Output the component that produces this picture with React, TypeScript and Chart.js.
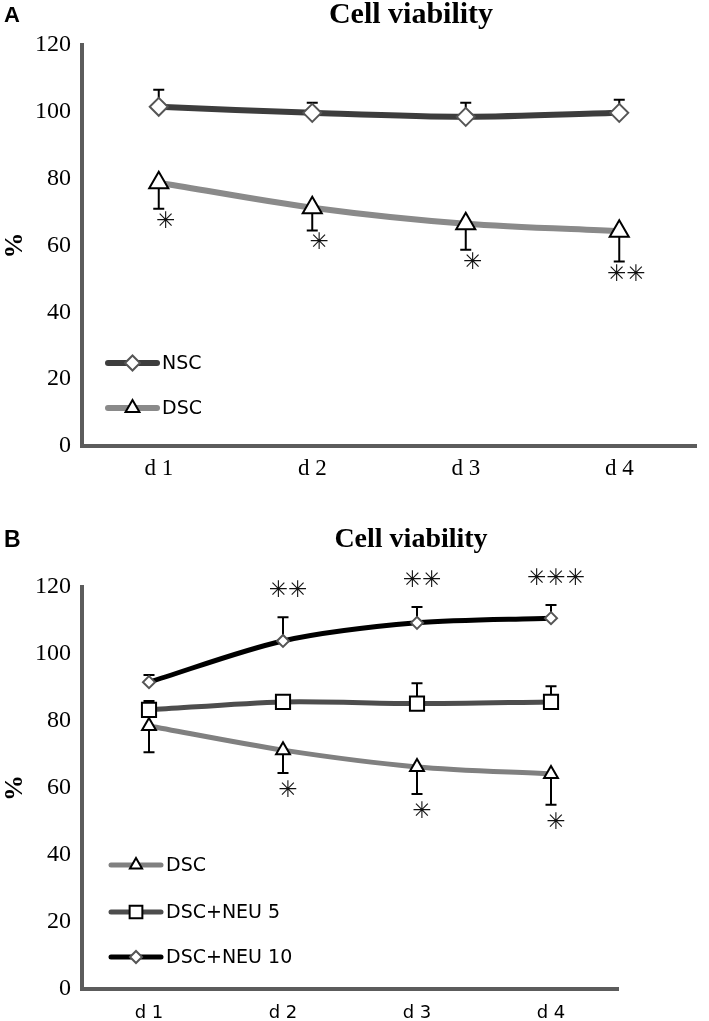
import React, { useEffect, useRef } from "react";
import { Chart, registerables } from "chart.js";
Chart.register(...registerables);

// ---------- data ----------
const days = ["d 1", "d 2", "d 3", "d 4"];
const yMin = 0;
const yMax = 120;
const yStep = 20;

// Panel A
const nscMean = [101.5, 99.7, 98.5, 99.7];
const nscSD = [5.1, 3.0, 4.2, 3.9];
const dscMeanA = [78.8, 71.3, 66.5, 64.3];
const dscSDA = [7.8, 6.8, 7.8, 9.1];
const dscStarsA = ["✳", "✳", "✳", "✳✳"];

// Panel B
const dscMeanB = [78.5, 71.3, 66.3, 64.2];
const dscSDB = [7.8, 6.8, 8.1, 9.2];
const neu5Mean = [83.3, 85.7, 85.2, 85.7];
const neu5SD = [2.7, 1.0, 6.1, 4.7];
const neu10Mean = [91.6, 103.9, 109.3, 110.7];
const neu10SD = [2.1, 7.1, 4.7, 3.9];
const dscStarsB = ["", "✳", "✳", "✳"];
const neu10Stars = ["", "✳✳", "✳✳", "✳✳✳"];

// ---------- styles ----------
const AXIS = "#5c5c5c";
const SERIF = "'Liberation Serif', 'Times New Roman', serif";
const SANS = "'DejaVu Sans', sans-serif";
const ARIAL = "'Liberation Sans', Arial, sans-serif";

type ErrSpec = { ds: number; mean: number[]; sd: number[]; dir: number; stars?: string[]; starGap?: number; starDx?: number };
type PanelCfg = {
  letter: string; letterFont: string; letterY: number;
  title: string; titleFont: string; titleX: number; titleY: number;
  legendX0: number; legendX1: number; legendY: number[]; legendFont: string; legendR: number[];
  errors: ErrSpec[]; capW: number; starFont: string;
};

function drawMarker(ctx: CanvasRenderingContext2D, style: string, x: number, y: number, r: number, fill: string, stroke: string, lw: number) {
  ctx.save();
  ctx.beginPath();
  if (style === "rectRot") {
    ctx.moveTo(x - r, y); ctx.lineTo(x, y - r); ctx.lineTo(x + r, y); ctx.lineTo(x, y + r); ctx.closePath();
  } else if (style === "triangle") {
    ctx.moveTo(x, y - r);
    ctx.lineTo(x + r * Math.sin((2 * Math.PI) / 3), y + r / 2);
    ctx.lineTo(x - r * Math.sin((2 * Math.PI) / 3), y + r / 2);
    ctx.closePath();
  } else {
    const s = r * Math.SQRT1_2;
    ctx.rect(x - s, y - s, 2 * s, 2 * s);
  }
  ctx.fillStyle = fill; ctx.fill();
  ctx.lineWidth = lw; ctx.strokeStyle = stroke; ctx.lineJoin = "miter"; ctx.stroke();
  ctx.restore();
}

function makePlugin(cfg: PanelCfg) {
  return {
    id: "annot" + cfg.letter,
    beforeDatasetsDraw(chart: any) {
      const ctx: CanvasRenderingContext2D = chart.ctx;
      const ys = chart.scales.y;
      ctx.save();
      ctx.strokeStyle = "#000";
      ctx.lineWidth = 2;
      for (const e of cfg.errors) {
        const meta = chart.getDatasetMeta(e.ds);
        meta.data.forEach((pt: any, j: number) => {
          const y1 = ys.getPixelForValue(e.mean[j] + e.dir * e.sd[j]);
          ctx.beginPath();
          ctx.moveTo(pt.x, pt.y); ctx.lineTo(pt.x, y1);
          ctx.moveTo(pt.x - cfg.capW / 2, y1); ctx.lineTo(pt.x + cfg.capW / 2, y1);
          ctx.stroke();
        });
      }
      ctx.restore();
    },
    afterDraw(chart: any) {
      const ctx: CanvasRenderingContext2D = chart.ctx;
      const ys = chart.scales.y;
      ctx.save();
      // panel letter
      ctx.fillStyle = "#000";
      ctx.textBaseline = "alphabetic";
      ctx.textAlign = "left";
      ctx.font = cfg.letterFont;
      ctx.fillText(cfg.letter, 4, cfg.letterY);
      // title
      ctx.font = cfg.titleFont;
      ctx.textAlign = "center";
      ctx.fillText(cfg.title, cfg.titleX, cfg.titleY);
      // stars
      ctx.font = cfg.starFont;
      ctx.textBaseline = "middle";
      ctx.fillStyle = "#111";
      for (const e of cfg.errors) {
        if (!e.stars) continue;
        const meta = chart.getDatasetMeta(e.ds);
        meta.data.forEach((pt: any, j: number) => {
          const s = e.stars![j];
          if (!s) return;
          const y1 = ys.getPixelForValue(e.mean[j] + e.dir * e.sd[j]);
          ctx.fillText(s, pt.x + (e.starDx || 0), y1 - e.dir * (e.starGap || 14));
        });
      }
      // legend
      ctx.textAlign = "left";
      ctx.font = cfg.legendFont;
      chart.data.datasets.forEach((ds: any, i: number) => {
        const y = cfg.legendY[i];
        ctx.save();
        ctx.strokeStyle = ds.borderColor;
        ctx.lineWidth = ds.borderWidth;
        ctx.lineCap = "round";
        ctx.beginPath();
        ctx.moveTo(cfg.legendX0, y); ctx.lineTo(cfg.legendX1, y);
        ctx.stroke();
        ctx.restore();
        drawMarker(ctx, ds.pointStyle, (cfg.legendX0 + cfg.legendX1) / 2, y, cfg.legendR[i], "#fff", ds.pointBorderColor, 2);
        ctx.fillStyle = "#000";
        ctx.fillText(ds.label, cfg.legendX1 + 5, y + 1);
      });
      ctx.restore();
    },
  };
}

function lineDs(label: string, data: number[], color: string, width: number, style: string, r: number, pColor: string) {
  return {
    label, data,
    borderColor: color, borderWidth: width,
    borderCapStyle: "round", borderJoinStyle: "round",
    tension: 0.3, fill: false, clip: false,
    pointStyle: style, pointRadius: r, pointHoverRadius: r,
    pointBackgroundColor: "#fff", pointBorderColor: pColor, pointBorderWidth: 2,
  };
}

function makeScales(xFont: any, xPad: number, xHeight: number) {
  return {
    x: {
      type: "category", offset: true,
      grid: { display: false, drawTicks: false },
      border: { display: true, color: AXIS, width: 4 },
      ticks: { font: xFont, color: "#000", padding: xPad, maxRotation: 0, autoSkip: false },
      afterFit: (s: any) => { s.height = xHeight; },
    },
    y: {
      min: yMin, max: yMax,
      grid: { display: false, drawTicks: false },
      border: { display: true, color: AXIS, width: 4 },
      ticks: { stepSize: yStep, font: { family: SERIF, size: 24 }, color: "#000", padding: 11 },
      title: { display: true, text: "%", color: "#000", font: { family: SERIF, size: 26, weight: "bold" }, padding: 0 },
      afterFit: (s: any) => { s.width = 82; },
    },
  };
}

function buildA() {
  const cfg: PanelCfg = {
    letter: "A", letterFont: `bold 22px ${ARIAL}`, letterY: 22,
    title: "Cell viability", titleFont: `bold 30px ${SERIF}`, titleX: 411, titleY: 23,
    legendX0: 108, legendX1: 157, legendY: [363, 408], legendFont: `19px ${SANS}`, legendR: [7.5, 8],
    errors: [
      { ds: 0, mean: nscMean, sd: nscSD, dir: 1 },
      { ds: 1, mean: dscMeanA, sd: dscSDA, dir: -1, stars: dscStarsA, starGap: 13, starDx: 7 },
    ],
    capW: 11, starFont: `23px ${SANS}`,
  };
  return {
    type: "line",
    data: {
      labels: days,
      datasets: [
        lineDs("NSC", nscMean, "#3d3d3d", 6, "rectRot", 9, "#555"),
        lineDs("DSC", dscMeanA, "#8a8a8a", 6, "triangle", 11, "#000"),
      ],
    },
    options: {
      animation: false, responsive: false,
      layout: { padding: { left: 0, right: 2, top: 45, bottom: 0 } },
      plugins: { legend: { display: false }, tooltip: { enabled: false }, title: { display: false } },
      scales: makeScales({ family: SERIF, size: 23 }, 9, 54),
    },
    plugins: [makePlugin(cfg)],
  };
}

function buildB() {
  const cfg: PanelCfg = {
    letter: "B", letterFont: `bold 23px ${ARIAL}`, letterY: 47,
    title: "Cell viability", titleFont: `bold 28px ${SERIF}`, titleX: 411, titleY: 47,
    legendX0: 111, legendX1: 161, legendY: [365, 412, 457], legendFont: `19px ${SANS}`, legendR: [7, 9, 6],
    errors: [
      { ds: 0, mean: dscMeanB, sd: dscSDB, dir: -1, stars: dscStarsB, starGap: 18, starDx: 5 },
      { ds: 1, mean: neu5Mean, sd: neu5SD, dir: 1 },
      { ds: 2, mean: neu10Mean, sd: neu10SD, dir: 1, stars: neu10Stars, starGap: 26, starDx: 5 },
    ],
    capW: 11, starFont: `23px ${SANS}`,
  };
  return {
    type: "line",
    data: {
      labels: days,
      datasets: [
        lineDs("DSC", dscMeanB, "#808080", 5, "triangle", 8, "#000"),
        lineDs("DSC+NEU 5", neu5Mean, "#4d4d4d", 5, "rect", 10, "#000"),
        lineDs("DSC+NEU 10", neu10Mean, "#000", 5, "rectRot", 6, "#555"),
      ],
    },
    options: {
      animation: false, responsive: false,
      layout: { padding: { left: 0, right: 91, top: 87, bottom: 0 } },
      plugins: { legend: { display: false }, tooltip: { enabled: false }, title: { display: false } },
      scales: makeScales({ family: SANS, size: 18 }, 14, 32),
    },
    plugins: [makePlugin(cfg)],
  };
}

function Panel({ build, height }: { build: () => any; height: number }) {
  const ref = useRef<HTMLCanvasElement>(null);
  useEffect(() => {
    const chart = new Chart(ref.current as HTMLCanvasElement, build());
    return () => chart.destroy();
  }, []);
  return <canvas ref={ref} width={709} height={height} style={{ display: "block", width: 709, height }} />;
}

export default function App() {
  return (
    <div style={{ position: "absolute", left: 0, top: 0, width: 709, height: 1021, background: "#fff" }}>
      <Panel build={buildA} height={500} />
      <Panel build={buildB} height={521} />
    </div>
  );
}
